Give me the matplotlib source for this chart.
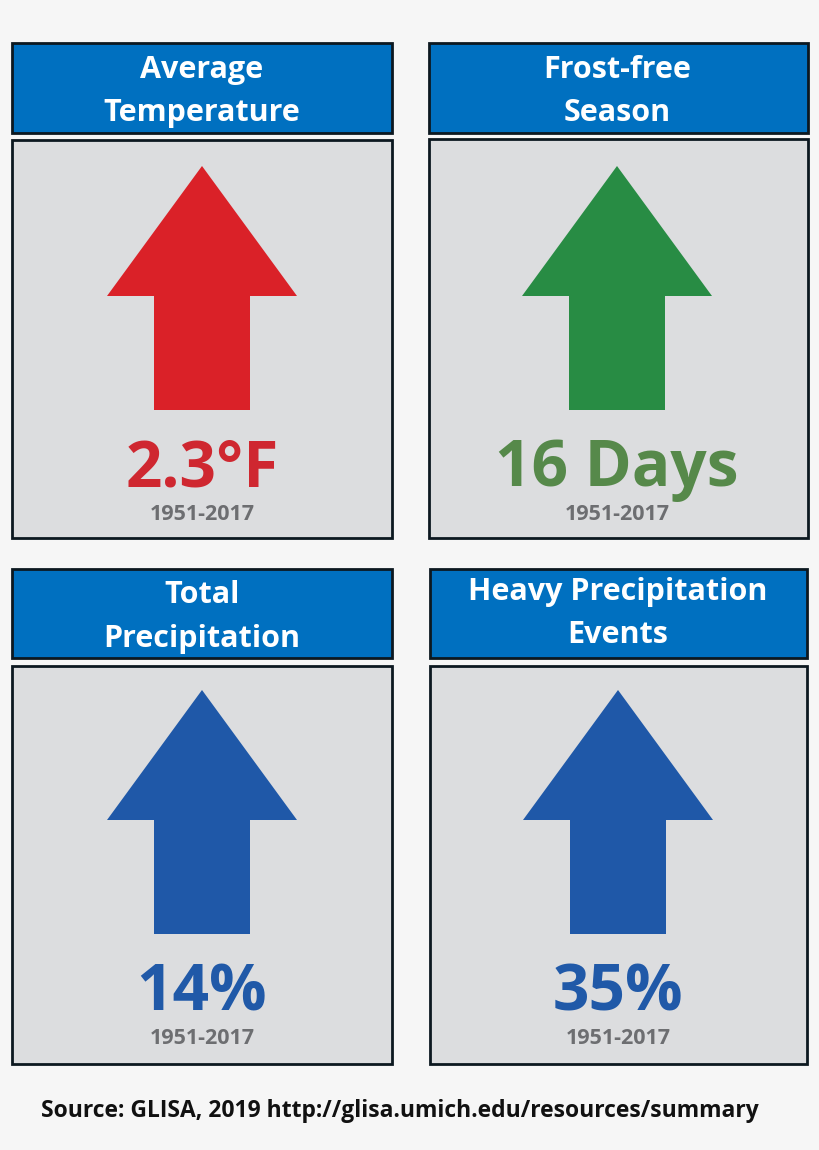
import matplotlib
matplotlib.use("Agg")
import matplotlib.pyplot as plt
from matplotlib.patches import Rectangle, Polygon

titles = [["Average", "Temperature"], ["Frost-free", "Season"],
          ["Total", "Precipitation"], ["Heavy Precipitation", "Events"]]
values = ["2.3°F", "16 Days", "14%", "35%"]
periods = ["1951-2017", "1951-2017", "1951-2017", "1951-2017"]
source = "Source: GLISA, 2019 http://glisa.umich.edu/resources/summary"

arrow_colors = ["#da2128", "#288c44", "#1f58a8", "#1f58a8"]
value_colors = ["#cf2730", "#56894a", "#2059a8", "#2059a8"]

# left, right, header top, header bottom, box top, box bottom, arrow centre, arrow tip
panels = [
    (12, 392, 43, 133, 140, 538, 202, 166),
    (429, 808, 43, 133, 139, 538, 617, 166),
    (12, 392, 569, 658, 666, 1064, 202, 690),
    (430, 807, 569, 658, 666, 1064, 618, 690),
]
# title line centres below the header top
title_y = [(27, 70), (27, 70), (26, 70), (23, 66)]

plt.rcParams['font.family'] = ['Open Sans', 'DejaVu Sans']

fig = plt.figure(figsize=(8.2, 11.5), dpi=100, facecolor="#f6f6f6")
ax = fig.add_axes([0, 0, 1, 1])
ax.set_xlim(0, 820)
ax.set_ylim(1150, 0)
ax.axis("off")

for i, (l, r, ht, hb, bt, bb, cx, tip) in enumerate(panels):
    ax.add_patch(Rectangle((l, ht), r - l, hb - ht, fc="#0070c0", ec="#0c1820", lw=2))
    ax.add_patch(Rectangle((l, bt), r - l, bb - bt, fc="#dcdddf", ec="#0c1820", lw=2))
    ax.add_patch(Polygon([(cx, tip), (cx + 95, tip + 130), (cx + 48, tip + 130),
                          (cx + 48, tip + 244), (cx - 48, tip + 244),
                          (cx - 48, tip + 130), (cx - 95, tip + 130)],
                         closed=True, fc=arrow_colors[i], ec="none"))
    ax.text(cx, ht + title_y[i][0], titles[i][0], color="white", fontsize=22, fontweight="bold",
            ha="center", va="center")
    ax.text(cx, ht + title_y[i][1], titles[i][1], color="white", fontsize=22, fontweight="bold",
            ha="center", va="center")
    ax.text(cx, tip + 304, values[i], color=value_colors[i], fontsize=46, fontweight="bold",
            ha="center", va="center")
    ax.text(cx, tip + 349, periods[i], color="#6d6e71", fontsize=15.5, fontweight="bold",
            ha="center", va="center")

ax.text(400, 1111, source, color="#111111", fontsize=16.5, fontweight="bold",
        ha="center", va="center")

fig.savefig("out.png", dpi=100, facecolor=fig.get_facecolor())
